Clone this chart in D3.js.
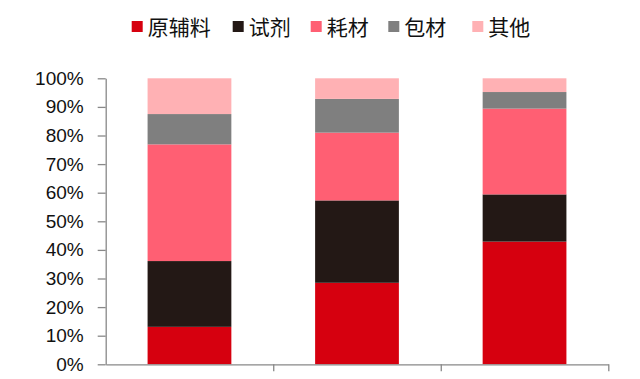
<!DOCTYPE html>
<html><head><meta charset="utf-8">
<script src="https://cdn.jsdelivr.net/npm/d3@7"></script>
<style>
html,body{margin:0;padding:0;background:#fff;}
svg{display:block;}
</style></head>
<body>
<svg id="chart" width="640" height="379"></svg>
<script>
const categories = ["c1", "c2", "c3"];
const seriesNames = ["原辅料", "试剂", "耗材", "包材", "其他"];
const seriesColors = ["#D6000F", "#231815", "#FF5F73", "#7F7F7F", "#FFB1B4"];
const valsRaw = [13.1, 28.5, 42.9];      // 原辅料
const valsReagent = [23.0, 28.8, 16.5];  // 试剂
const valsConsum = [40.8, 23.7, 30.0];   // 耗材
const valsPack = [10.6, 11.8, 5.8];      // 包材
const valsOther = [12.5, 7.2, 4.8];      // 其他
const yTicks = [0, 10, 20, 30, 40, 50, 60, 70, 80, 90, 100];

const seriesValues = [valsRaw, valsReagent, valsConsum, valsPack, valsOther];
const table = categories.map((c, i) => {
  const row = { cat: c };
  seriesNames.forEach((s, j) => row[s] = seriesValues[j][i]);
  return row;
});

const svg = d3.select("#chart");
const mLeft = 105.7, mRight = 608.3, mTop = 78.3, mBottom = 364.3;

const x = d3.scaleBand().domain(categories).range([mLeft, mRight])
  .paddingInner(0.5).paddingOuter(0.25);
const y = d3.scaleLinear().domain([0, 100]).range([mBottom, mTop]);
const color = d3.scaleOrdinal().domain(seriesNames).range(seriesColors);

const stack = d3.stack().keys(seriesNames)(table);

svg.append("g").selectAll("g").data(stack).join("g")
  .attr("fill", d => color(d.key))
  .selectAll("rect").data(d => d).join("rect")
  .attr("x", d => x(d.data.cat))
  .attr("width", x.bandwidth())
  .attr("y", d => y(d[1]))
  .attr("height", d => y(d[0]) - y(d[1]));

// Y axis
const yAxis = svg.append("g").attr("transform", `translate(${mLeft},0)`)
  .call(d3.axisLeft(y).tickValues(yTicks).tickFormat(d => d + "%")
    .tickSize(8).tickSizeOuter(0).tickPadding(14));
yAxis.selectAll("path,line").attr("stroke", "#888").attr("stroke-width", 1.3);
yAxis.selectAll("text").attr("font-family", "Liberation Sans, Arial, sans-serif")
  .attr("font-size", 19).attr("fill", "#111");

// X axis with ticks at category boundaries
const xb = d3.scaleLinear().domain([0, categories.length]).range([mLeft, mRight]);
const xAxis = svg.append("g").attr("transform", `translate(0,${mBottom})`)
  .call(d3.axisBottom(xb).tickValues(d3.range(1, categories.length + 1))
    .tickFormat("").tickSize(7).tickSizeOuter(0));
xAxis.selectAll("path,line").attr("stroke", "#888").attr("stroke-width", 1.3);

// Legend
const legendX = [131.7, 232.7, 310.7, 388.3, 472.3];
const lg = svg.append("g").selectAll("g").data(seriesNames).join("g")
  .attr("transform", (d, i) => `translate(${legendX[i]},0)`);
lg.append("rect").attr("x", 0).attr("y", 21).attr("width", 11).attr("height", 11)
  .attr("fill", d => color(d));
lg.append("text").attr("x", 16).attr("y", 34.5)
  .attr("font-family", "Noto Sans CJK SC, sans-serif").attr("font-size", 21)
  .attr("fill", "#111").text(d => d);
</script>
</body></html>
